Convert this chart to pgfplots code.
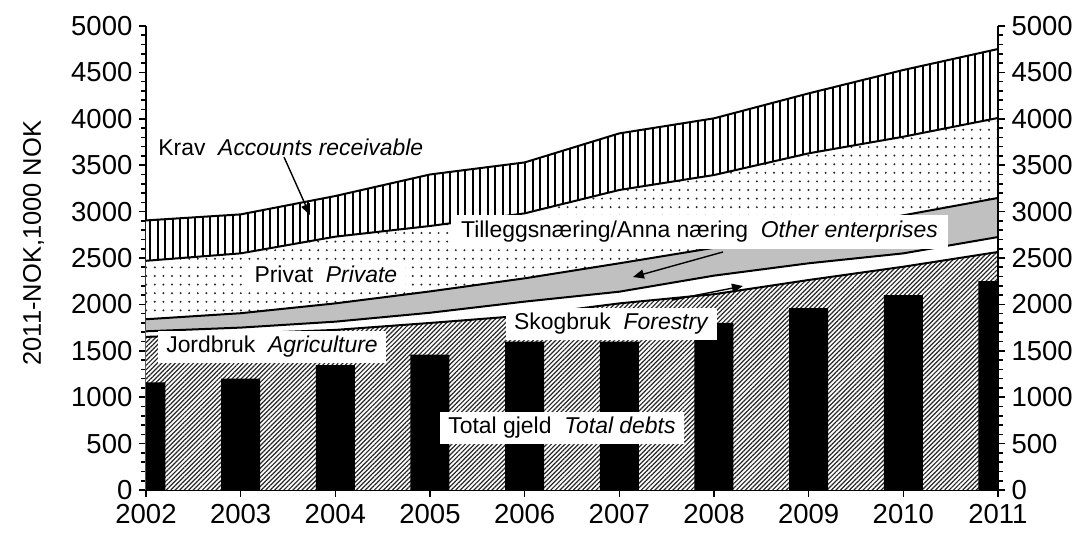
\documentclass[border=0pt]{standalone}
\usepackage{fontspec}
\setmainfont{Liberation Sans}
\usepackage{pgfplots}
\usepackage{pgfplotstable}
\pgfplotsset{compat=1.18}
\usetikzlibrary{patterns.meta,arrows.meta}
\definecolor{tgray}{HTML}{C0C0C0}

\pgfplotstableread{
year jord skog till priv krav total
2002 1650 1710 1840 2470 2905 1160
2003 1685 1750 1905 2550 2970 1200
2004 1725 1814 2011 2730 3168 1345
2005 1800 1910 2140 2845 3400 1460
2006 1880 2030 2281 2981 3530 1600
2007 2011 2137 2443 3233 3843 1600
2008 2110 2310 2610 3394 4005 1800
2009 2263 2443 2780 3628 4274 1960
2010 2406 2550 2960 3807 4526 2100
2011 2565 2726 3147 4009 4752 2250
}\datatable

\newcommand{\annfont}{\fontsize{11.5}{13}\selectfont}

\begin{document}
\begin{tikzpicture}
\useasboundingbox (-73bp,-22bp) rectangle (470bp,245bp);
\pgfplotsset{
  common/.style={
    width=426bp, height=232bp, scale only axis,
    xmin=2002, xmax=2011, ymin=0, ymax=5000,
    ytick={0,500,...,5000}, minor y tick num=4,
    tick align=outside,
    major tick length=3.3bp, minor tick length=2.6bp,
    every tick/.style={black, line width=0.8bp},
    axis line style={line width=1bp},
    tick label style={font=\fontsize{13.8}{15}\selectfont},
    /pgf/number format/assume math mode=true,
    /pgf/number format/1000 sep={},
  }
}
\begin{axis}[common,
  axis x line*=bottom, axis y line*=left,
  xtick={2002,2003,...,2011},
  xticklabel style={yshift=-0.5bp},
  ylabel={2011-NOK,1000 NOK},
  ylabel style={font=\fontsize{12.8}{14}\selectfont, at={(axis description cs:-0.132,0.532)}, anchor=center},
]
% Krav
\addplot[draw=none, fill=white] table[x=year,y=krav]{\datatable} \closedcycle;
\addplot[draw=none, pattern={Lines[angle=90,distance=3.75bp,line width=1bp]}] table[x=year,y=krav]{\datatable} \closedcycle;
% Privat
\addplot[draw=none, fill=white] table[x=year,y=priv]{\datatable} \closedcycle;
\addplot[draw=none, pattern={Dots[distance=4.3bp,radius=0.55bp]}, pattern color=black!85] table[x=year,y=priv]{\datatable} \closedcycle;
% Tilleggsnaering
\addplot[draw=none, fill=tgray] table[x=year,y=till]{\datatable} \closedcycle;
% Skogbruk
\addplot[draw=none, fill=white] table[x=year,y=skog]{\datatable} \closedcycle;
% Jordbruk
\addplot[draw=none, pattern={Lines[angle=45,distance=1.6bp,line width=0.6bp]}, pattern color=black!85] table[x=year,y=jord]{\datatable} \closedcycle;
% Total debts
\addplot[ybar, bar width=19.5bp, fill=black, draw=none] table[x=year,y=total]{\datatable};
% boundary lines
\addplot[black, line width=1bp] table[x=year,y=jord]{\datatable};
\addplot[black, line width=1bp] table[x=year,y=skog]{\datatable};
\addplot[black, line width=1bp] table[x=year,y=till]{\datatable};
\addplot[black, line width=1bp] table[x=year,y=priv]{\datatable};
\addplot[black, line width=1bp] table[x=year,y=krav]{\datatable};
% labels
\node[font=\annfont] at (axis cs:2003.53,3696) {Krav\ \ \textit{Accounts receivable}};
\node[font=\annfont, fill=white, inner xsep=4bp, inner ysep=2.5bp] at (axis cs:2003.90,2328) {Privat\ \ \textit{Private}};
\node[font=\annfont, fill=white, inner xsep=5bp, inner ysep=3bp] at (axis cs:2007.847,2780) {Tilleggsnæring/Anna næring\ \ \textit{Other enterprises}};
\node[font=\annfont, fill=white, inner xsep=4bp, inner ysep=2.5bp] at (axis cs:2006.917,1789) {Skogbruk\ \ \textit{Forestry}};
\node[font=\annfont, fill=white, inner xsep=4bp, inner ysep=2.5bp] at (axis cs:2003.331,1541) {Jordbruk\ \ \textit{Agriculture}};
\node[font=\annfont, fill=white, inner xsep=4bp, inner ysep=2.5bp] at (axis cs:2006.394,668) {Total gjeld\ \ \textit{Total debts}};
% arrows
\draw[line width=0.7bp, -{Triangle[length=5.5bp,width=4.5bp]}] (axis cs:2003.458,3588) -- (axis cs:2003.732,2963);
\draw[line width=0.7bp, -{Triangle[length=5.5bp,width=4.5bp]}] (axis cs:2008.095,2565) -- (axis cs:2007.144,2295);
\draw[line width=0.7bp, -{Triangle[length=5.5bp,width=4.5bp]}] (axis cs:2007.556,2047) -- (axis cs:2008.306,2198);
\end{axis}
\begin{axis}[common, axis y line*=right, axis x line=none, xtick=\empty]
\addplot[draw=none] coordinates {(2002,0)};
\end{axis}
\end{tikzpicture}
\end{document}
